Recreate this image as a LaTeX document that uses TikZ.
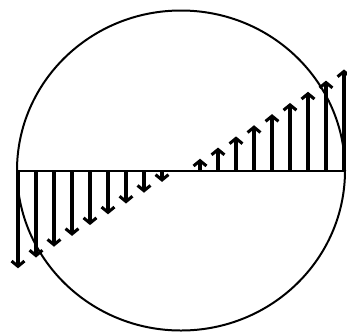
\documentclass[tikz,border=0pt]{standalone}
\usetikzlibrary{arrows.meta}
\begin{document}
\begin{tikzpicture}[x=0.03cm,y=-0.03cm,
  rim/.style={line width=1.7pt},
  force/.style={line width=2.6pt,-{Straight Barb[length=4.5pt,width=11pt]}}]
  \useasboundingbox (0,0) rectangle (347,331);
  \coordinate (o) at (181,170.5);
  \coordinate (w) at (17,170.5);
  \coordinate (e) at (345,170.5);
  \draw[rim] (o) ellipse[x radius=164,y radius=160];
  \draw[rim] (w) -- (e);
  % tension side up, compression side down
  \foreach \i in {1,...,9}{
    \pgfmathsetmacro\d{1+18*\i}
    \draw[force] (o) ++(\d,0) -- ++(0,-0.62*\d);
    \draw[force] (o) ++(-\d,0) -- ++(0,0.6*\d);
  }
\end{tikzpicture}
\end{document}
